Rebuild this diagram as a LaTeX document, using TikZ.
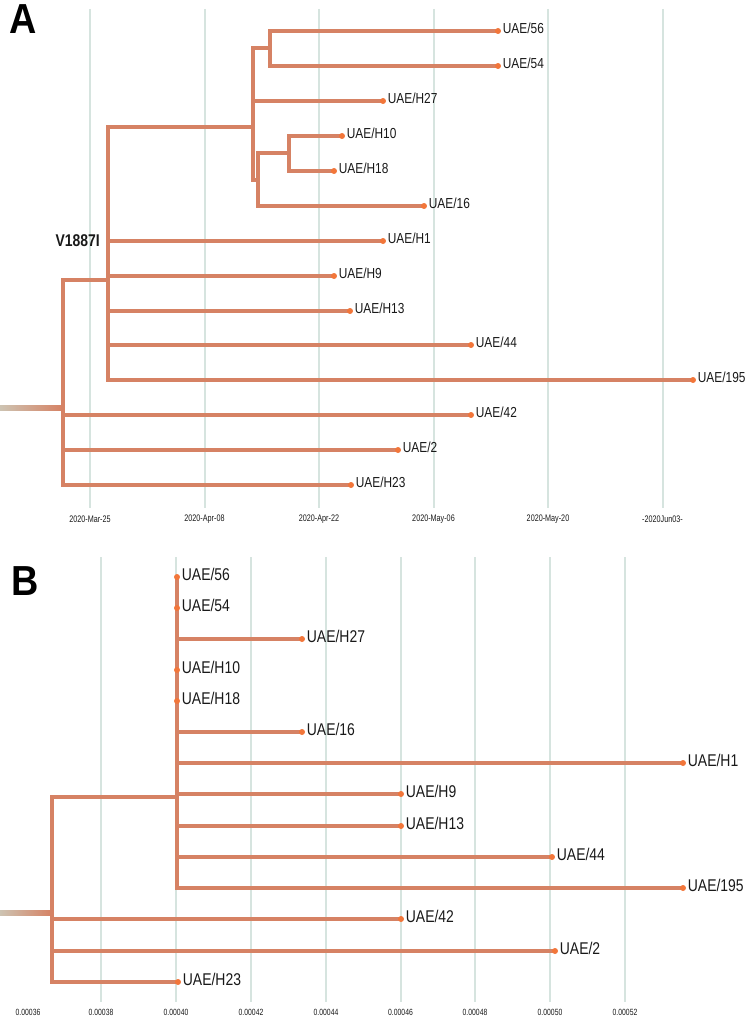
\documentclass[tikz,border=0pt]{standalone}
\usepackage{fontspec}
\setmainfont{Liberation Sans}
\newfontfamily\labfont[FakeStretch=0.82]{Liberation Sans}
\newfontfamily\axfont[FakeStretch=0.76]{Liberation Sans}
\newfontfamily\bigfont[FakeStretch=0.9]{Liberation Sans}
\usetikzlibrary{backgrounds,calc}
\definecolor{brc}{RGB}{214,130,100}
\definecolor{tipc}{RGB}{242,118,58}
\definecolor{gridc}{RGB}{214,228,223}
\definecolor{stemc}{RGB}{205,195,178}
\definecolor{txt}{RGB}{25,25,25}
\begin{document}
\begin{tikzpicture}[x=1pt,y=-1pt,
  branch/.style={draw=brc, line width=4.5pt, line join=miter, line cap=rect},
  tipdot/.style={circle, fill=tipc, inner sep=0pt, minimum size=6pt},
  labA/.style={anchor=west, inner sep=1.5pt, yshift=3pt, text=txt, font=\labfont\fontsize{14.5}{14.5}\selectfont},
  labB/.style={anchor=west, inner sep=1.5pt, yshift=3pt, text=txt, font=\labfont\fontsize{17}{17}\selectfont},
  gridl/.style={draw=gridc, line width=2pt},
  axA/.style={text=txt, inner sep=0pt, font=\axfont\fontsize{9.5}{9.5}\selectfont},
  axB/.style={text=txt, inner sep=0pt, font=\axfont\fontsize{9}{9}\selectfont},
  panel/.style={inner sep=0pt, text=black, font=\bigfont\bfseries\fontsize{42}{42}\selectfont}]
\useasboundingbox (0,0) rectangle (750,1016);

% ---------------- Panel A ----------------
\node[panel] (pA) at (23.5,19.5) {A};
\begin{scope}[on background layer]
  \foreach \x in {90,204.5,319,433.5,548,662.5}
    \draw[gridl] (\x,9) -- (\x,508);
\end{scope}
\node[axA] (xa1) at (90,519) {2020-Mar-25};
\node[axA] (xa2) at (204.5,519) {2020-Apr-08};
\node[axA] (xa3) at (319,519) {2020-Apr-22};
\node[axA] (xa4) at (433.5,519) {2020-May-06};
\node[axA] (xa5) at (548,519) {2020-May-20};
\node[axA] (xa6) at (662.5,519) {-2020Jun03-};

% internal nodes
\coordinate (rA) at (63,408);
\coordinate (cA) at (108,280);
\coordinate (n1) at (253,127);
\coordinate (n56) at (270,48);
\coordinate (n2) at (258,180);
\coordinate (n10) at (289,153);
% tips
\node[tipdot] (t56) at (498,31) {};
\node[tipdot] (t54) at (498,66) {};
\node[tipdot] (tH27) at (383,101) {};
\node[tipdot] (tH10) at (342,136) {};
\node[tipdot] (tH18) at (334,171) {};
\node[tipdot] (t16) at (424,206) {};
\node[tipdot] (tH1) at (383,241) {};
\node[tipdot] (tH9) at (334,276) {};
\node[tipdot] (tH13) at (350,311) {};
\node[tipdot] (t44) at (471,345) {};
\node[tipdot] (t195) at (693,380) {};
\node[tipdot] (t42) at (471,415) {};
\node[tipdot] (t2) at (398,450) {};
\node[tipdot] (tH23) at (351,485) {};

\begin{scope}[on background layer]
  \shade[left color=stemc, right color=brc] ($(rA)+(-63,-2.25)$) rectangle ($(rA)+(0,2.25)$);
  \foreach \p/\c in {rA/cA,rA/t42,rA/t2,rA/tH23,
                     cA/n1,cA/tH1,cA/tH9,cA/tH13,cA/t44,cA/t195,
                     n1/n56,n1/tH27,n1/n2,n56/t56,n56/t54,
                     n2/n10,n2/t16,n10/tH10,n10/tH18}
    \draw[branch] (\p) |- (\c);
\end{scope}

\node[labA] (lt56) at (t56.east) {UAE/56};
\node[labA] (lt54) at (t54.east) {UAE/54};
\node[labA] (ltH27) at (tH27.east) {UAE/H27};
\node[labA] (ltH10) at (tH10.east) {UAE/H10};
\node[labA] (ltH18) at (tH18.east) {UAE/H18};
\node[labA] (lt16) at (t16.east) {UAE/16};
\node[labA] (ltH1) at (tH1.east) {UAE/H1};
\node[labA] (ltH9) at (tH9.east) {UAE/H9};
\node[labA] (ltH13) at (tH13.east) {UAE/H13};
\node[labA] (lt44) at (t44.east) {UAE/44};
\node[labA] (lt195) at (t195.east) {UAE/195};
\node[labA] (lt42) at (t42.east) {UAE/42};
\node[labA] (lt2) at (t2.east) {UAE/2};
\node[labA] (ltH23) at (tH23.east) {UAE/H23};
\node[anchor=east, inner sep=0pt, text=txt, font=\labfont\bfseries\fontsize{17}{17}\selectfont] (mut) at (100,241) {V1887I};

% ---------------- Panel B ----------------
\node[panel] (pB) at (25,581) {B};
\begin{scope}[on background layer]
  \foreach \x in {101,176,251,326,400.5,475,550,625}
    \draw[gridl] (\x,557) -- (\x,1002);
\end{scope}
\node[axB] (xb0) at (28,1012) {0.00036};
\node[axB] (xb1) at (101,1012) {0.00038};
\node[axB] (xb2) at (176,1012) {0.00040};
\node[axB] (xb3) at (251,1012) {0.00042};
\node[axB] (xb4) at (326,1012) {0.00044};
\node[axB] (xb5) at (400.5,1012) {0.00046};
\node[axB] (xb6) at (475,1012) {0.00048};
\node[axB] (xb7) at (550,1012) {0.00050};
\node[axB] (xb8) at (625,1012) {0.00052};

\coordinate (rB) at (52,913);
\coordinate (cB) at (177,797);
\node[tipdot] (b56) at (177,577) {};
\node[tipdot] (b54) at (177,608) {};
\node[tipdot] (bH27) at (302,639) {};
\node[tipdot] (bH10) at (177,670) {};
\node[tipdot] (bH18) at (177,701) {};
\node[tipdot] (b16) at (302,732) {};
\node[tipdot] (bH1) at (683,763) {};
\node[tipdot] (bH9) at (401,794) {};
\node[tipdot] (bH13) at (401,826) {};
\node[tipdot] (b44) at (552,857) {};
\node[tipdot] (b195) at (683,888) {};
\node[tipdot] (b42) at (401,919) {};
\node[tipdot] (b2) at (555,951) {};
\node[tipdot] (bH23) at (178,982) {};

\begin{scope}[on background layer]
  \shade[left color=stemc, right color=brc] ($(rB)+(-52,-2.25)$) rectangle ($(rB)+(0,2.25)$);
  \foreach \p/\c in {rB/cB,rB/b42,rB/b2,rB/bH23,
                     cB/bH27,cB/b16,cB/bH1,cB/bH9,cB/bH13,cB/b44,cB/b195}
    \draw[branch] (\p) |- (\c);
  \draw[branch] (cB) -- (b56);
\end{scope}

\node[labB] (lb56) at (b56.east) {UAE/56};
\node[labB] (lb54) at (b54.east) {UAE/54};
\node[labB] (lbH27) at (bH27.east) {UAE/H27};
\node[labB] (lbH10) at (bH10.east) {UAE/H10};
\node[labB] (lbH18) at (bH18.east) {UAE/H18};
\node[labB] (lb16) at (b16.east) {UAE/16};
\node[labB] (lbH1) at (bH1.east) {UAE/H1};
\node[labB] (lbH9) at (bH9.east) {UAE/H9};
\node[labB] (lbH13) at (bH13.east) {UAE/H13};
\node[labB] (lb44) at (b44.east) {UAE/44};
\node[labB] (lb195) at (b195.east) {UAE/195};
\node[labB] (lb42) at (b42.east) {UAE/42};
\node[labB] (lb2) at (b2.east) {UAE/2};
\node[labB] (lbH23) at (bH23.east) {UAE/H23};
\end{tikzpicture}
\end{document}
